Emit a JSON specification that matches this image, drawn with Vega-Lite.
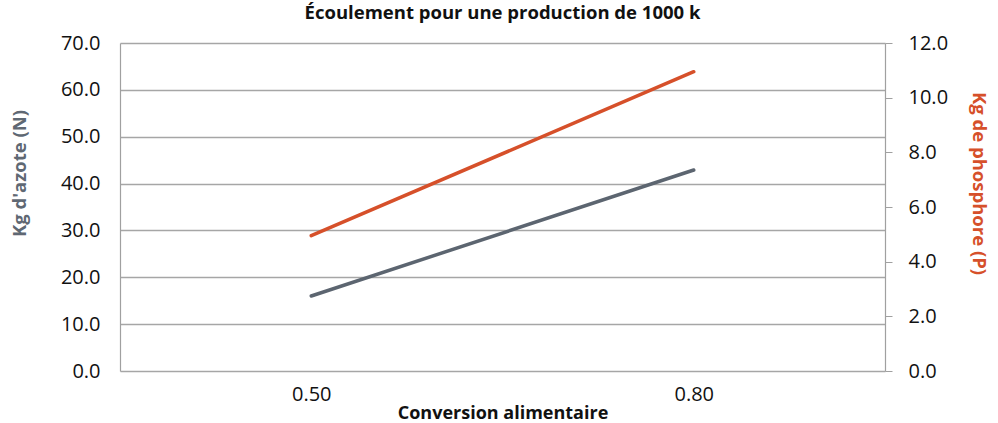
{
  "$schema": "https://vega.github.io/schema/vega-lite/v6.json",
  "width": 765,
  "height": 328,
  "autosize": {"type": "none"},
  "padding": {"left": 120, "top": 43, "right": 113, "bottom": 52},
  "title": {
    "text": "Écoulement pour une production de 1000 k",
    "font": "Open Sans",
    "fontSize": 18.5,
    "fontWeight": "bold",
    "color": "#111111",
    "anchor": "middle",
    "offset": 11
  },
  "data": {
    "values": [
      {"conversion": "0.50", "azote": 16.0, "phosphore": 4.95},
      {"conversion": "0.80", "azote": 42.9, "phosphore": 10.95}
    ]
  },
  "encoding": {
    "x": {
      "field": "conversion",
      "type": "ordinal",
      "scale": {"type": "point", "padding": 0.5},
      "axis": {
        "title": "Conversion alimentaire",
        "titleFont": "Open Sans",
        "titleFontSize": 18,
        "titleFontWeight": "bold",
        "titleColor": "#111111",
        "titlePadding": 0,
        "labelFont": "Open Sans",
        "labelFontSize": 20,
        "labelColor": "#111111",
        "labelAngle": 0,
        "labelPadding": 13,
        "ticks": false,
        "domain": false,
        "grid": false
      }
    }
  },
  "layer": [
    {
      "mark": {"type": "line", "color": "#5c6570", "strokeWidth": 3.5, "strokeCap": "round"},
      "encoding": {
        "y": {
          "field": "azote",
          "type": "quantitative",
          "scale": {"domain": [0, 70], "nice": false},
          "axis": {
            "title": "Kg d'azote (N)",
            "titleFont": "Open Sans",
            "titleFontSize": 18.5,
            "titleFontWeight": "bold",
            "titleColor": "#5f6873",
            "titleY": 130,
            "titlePadding": 31,
            "values": [0, 10, 20, 30, 40, 50, 60, 70],
            "format": ".1f",
            "labelFont": "Open Sans",
            "labelFontSize": 20,
            "labelColor": "#111111",
            "labelPadding": 20,
            "ticks": false,
            "domain": true,
            "domainColor": "#a0a0a0",
            "domainWidth": 1.2,
            "grid": true,
            "gridColor": "#a6a6a6",
            "gridWidth": 1.5
          }
        }
      }
    },
    {
      "mark": {"type": "line", "color": "#d6502a", "strokeWidth": 3.5, "strokeCap": "round"},
      "encoding": {
        "y": {
          "field": "phosphore",
          "type": "quantitative",
          "scale": {"domain": [0, 12], "nice": false},
          "axis": {
            "orient": "right",
            "title": "Kg de phosphore (P)",
            "titleFont": "Open Sans",
            "titleFontSize": 18.5,
            "titleFontWeight": "bold",
            "titleColor": "#d6502a",
            "titleAngle": 90,
            "titleY": 140,
            "titlePadding": 21,
            "values": [0, 2, 4, 6, 8, 10, 12],
            "format": ".1f",
            "labelFont": "Open Sans",
            "labelFontSize": 20,
            "labelColor": "#111111",
            "labelPadding": 16,
            "ticks": true,
            "tickSize": 7,
            "tickColor": "#a0a0a0",
            "domain": true,
            "domainColor": "#a0a0a0",
            "domainWidth": 1.2,
            "grid": false
          }
        }
      }
    }
  ],
  "resolve": {"scale": {"y": "independent"}},
  "config": {"view": {"stroke": null}}
}
